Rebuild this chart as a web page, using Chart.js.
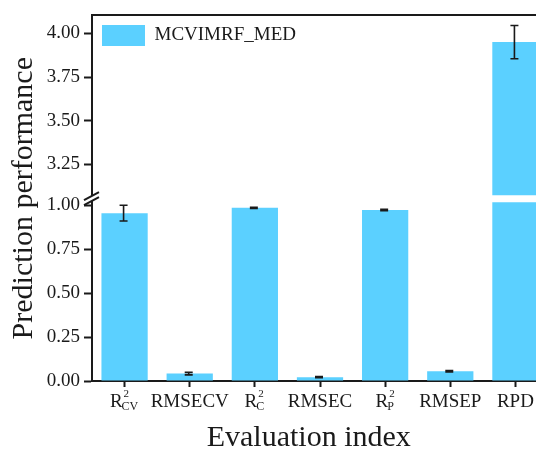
<!DOCTYPE html>
<html>
<head>
<meta charset="utf-8">
<script src="https://cdn.jsdelivr.net/npm/chart.js@4.4.0/dist/chart.umd.min.js"></script>
<style>
  html, body { margin: 0; padding: 0; background: #fff; overflow: hidden; }
  #wrap { position: relative; width: 548px; height: 450px; }
</style>
</head>
<body>
<div id="wrap"><canvas id="perfChart"></canvas></div>
<script>
// labels written as "base^sup_sub" get drawn with super/subscripts
const categories = ['R^2_CV', 'RMSECV', 'R^2_C', 'RMSEC', 'R^2_P', 'RMSEP', 'RPD'];
const seriesName = 'MCVIMRF_MED';
const values = [0.955, 0.042, 0.985, 0.022, 0.973, 0.055, 3.95];
const errors = [0.045, 0.007, 0.003, 0.003, 0.004, 0.004, 0.095];
const lowTicks = [0, 0.25, 0.5, 0.75, 1.0];
const highTicks = [3.25, 3.5, 3.75, 4.0];
const lowRange = [0, 1.04];
const highRange = [3.056, 4.103];

const FONT = "'Liberation Serif', 'Times New Roman', serif";
const BAR_COLOR = '#5BD0FF';
const INK = '#1a1a1a';

(function () {
    // keep each copy of the bars inside its own half of the broken axis
    const splitClip = {
        id: 'splitClip',
        beforeDatasetDraw(chart, args) {
            const scale = chart.scales[args.meta.yAxisID];
            const area = chart.chartArea;
            const top = scale.id === 'yLow' ? scale.top + 4 : scale.top;
            const bottom = scale.id === 'yHigh' ? scale.bottom - 3 : scale.bottom;
            chart.ctx.save();
            chart.ctx.beginPath();
            chart.ctx.rect(area.left, top, area.right - area.left, bottom - top);
            chart.ctx.clip();
        },
        afterDatasetDraw(chart) {
            chart.ctx.restore();
        }
    };

    const errorBars = {
        id: 'errorBars',
        afterDatasetsDraw(chart) {
            const ctx = chart.ctx;
            const xs = chart.scales.x;
            ctx.save();
            ctx.strokeStyle = INK;
            ctx.lineWidth = 1.6;
            values.forEach((v, i) => {
                const ys = v > lowRange[1] ? chart.scales.yHigh : chart.scales.yLow;
                const px = xs.getPixelForValue(i) - 1;
                const top = ys.getPixelForValue(v + errors[i]);
                const bot = ys.getPixelForValue(v - errors[i]);
                ctx.beginPath();
                ctx.moveTo(px, top); ctx.lineTo(px, bot);
                ctx.moveTo(px - 4, top); ctx.lineTo(px + 4, top);
                ctx.moveTo(px - 4, bot); ctx.lineTo(px + 4, bot);
                ctx.stroke();
            });
            ctx.restore();
        }
    };

    // the "//" mark where the y axis is broken
    const axisBreak = {
        id: 'axisBreak',
        afterDraw(chart) {
            const ctx = chart.ctx;
            const s = chart.scales.yLow;
            const x = s.right;
            const y = s.top;
            ctx.save();
            ctx.fillStyle = '#fff';
            ctx.beginPath();
            ctx.moveTo(x - 7, y + 1);
            ctx.lineTo(x + 7, y - 6);
            ctx.lineTo(x + 7, y - 1);
            ctx.lineTo(x - 7, y + 6);
            ctx.closePath();
            ctx.fill();
            ctx.strokeStyle = INK;
            ctx.lineWidth = 2;
            ctx.beginPath();
            ctx.moveTo(x - 8, y + 2); ctx.lineTo(x + 7, y - 6);
            ctx.moveTo(x - 8, y + 7); ctx.lineTo(x + 7, y - 1);
            ctx.stroke();
            ctx.restore();
        }
    };

    const richLabels = {
        id: 'richLabels',
        afterDraw(chart) {
            const ctx = chart.ctx;
            const xs = chart.scales.x;
            const baseY = xs.top + 26;
            ctx.save();
            ctx.fillStyle = INK;
            ctx.textBaseline = 'alphabetic';
            categories.forEach((label, i) => {
                const cx = xs.getPixelForValue(i);
                const m = label.match(/^(\w+)\^(\w+)_(\w+)$/);
                ctx.font = '19px ' + FONT;
                if (!m) {
                    ctx.textAlign = 'center';
                    ctx.fillText(label, cx, baseY);
                    return;
                }
                ctx.textAlign = 'left';
                const baseW = ctx.measureText(m[1]).width;
                ctx.font = '12px ' + FONT;
                const subW = ctx.measureText(m[3]).width;
                const total = baseW + subW;
                const left = cx - total / 2;
                ctx.font = '19px ' + FONT;
                ctx.fillText(m[1], left, baseY);
                ctx.font = '11px ' + FONT;
                ctx.fillText(m[2], left + baseW + 1, baseY - 10);
                ctx.font = '12px ' + FONT;
                ctx.fillText(m[3], left + baseW - 1, baseY + 3);
            });
            ctx.restore();
        }
    };

    const tickFont = { family: FONT, size: 19 };

    function yAxis(range, tickList) {
        return {
            type: 'linear',
            position: 'left',
            stack: 'y',
            stackWeight: 1,
            min: range[0],
            max: range[1],
            afterBuildTicks(s) { s.ticks = tickList.map(v => ({ value: v })); },
            afterFit(s) { s.width = 53; },
            ticks: { font: tickFont, color: INK, padding: 4, callback: v => Number(v).toFixed(2) },
            grid: { drawOnChartArea: false, tickLength: 8, tickWidth: 2, tickColor: INK },
            border: { color: INK, width: 2 }
        };
    }

    const barStyle = {
        backgroundColor: BAR_COLOR,
        borderWidth: 0,
        grouped: false,
        barPercentage: 0.71,
        categoryPercentage: 1
    };

    new Chart(document.getElementById('perfChart'), {
        type: 'bar',
        data: {
            labels: categories,
            datasets: [
                Object.assign({ label: seriesName, data: values, yAxisID: 'yLow' }, barStyle),
                Object.assign({ label: seriesName, data: values, yAxisID: 'yHigh' }, barStyle)
            ]
        },
        options: {
            responsive: true,
            maintainAspectRatio: false,
            animation: false,
            layout: { padding: { top: 15, left: 0, right: 0, bottom: 0 } },
            plugins: {
                legend: {
                    position: 'chartArea',
                    align: 'start',
                    // empty title only pushes the entry down inside the plot
                    title: { display: true, text: ' ', font: { size: 15, lineHeight: 1 }, padding: 0 },
                    labels: {
                        boxWidth: 43,
                        boxHeight: 21,
                        padding: 10,
                        color: INK,
                        font: { family: FONT, size: 19 },
                        filter: item => item.datasetIndex === 0
                    }
                },
                title: {
                    display: true,
                    text: 'Prediction performance',
                    position: 'left',
                    fullSize: false,
                    color: INK,
                    font: { family: FONT, size: 30, weight: 'normal', lineHeight: 1 },
                    padding: { top: 9, bottom: 0 }
                },
                tooltip: { enabled: false }
            },
            scales: {
                x: {
                    type: 'category',
                    grid: { display: true, offset: false, drawOnChartArea: false, tickLength: 6, tickWidth: 2, tickColor: INK },
                    border: { color: INK, width: 2 },
                    ticks: { display: false },
                    title: {
                        display: true,
                        text: 'Evaluation index   ',
                        color: INK,
                        font: { family: FONT, size: 30, lineHeight: 0.8 },
                        padding: 0
                    },
                    afterFit(s) { s.height = 69; }
                },
                xTop: {
                    type: 'category',
                    position: 'top',
                    grid: { display: false, drawTicks: false },
                    ticks: { display: false },
                    border: { color: INK, width: 2 },
                    afterFit(s) { s.height = 0; }
                },
                yLow: yAxis(lowRange, lowTicks),
                yHigh: yAxis(highRange, highTicks)
            }
        },
        plugins: [splitClip, errorBars, axisBreak, richLabels]
    });
})();
</script>
</body>
</html>
